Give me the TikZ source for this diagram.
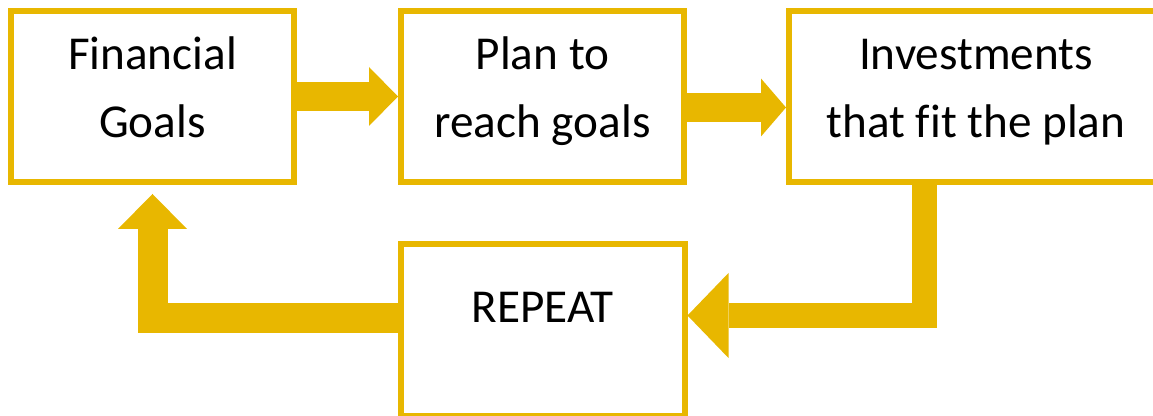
\documentclass[tikz,border=0pt]{standalone}
\usepackage{fontspec}
\setmainfont{Carlito}[Ligatures=NoCommon]
\usetikzlibrary{arrows.meta, positioning}
\definecolor{gold}{RGB}{232,183,0}

\begin{document}
\begin{tikzpicture}[
    x=0.5pt, y=-0.5pt,
    box/.style={draw=gold, line width=3pt, text centered, align=center,
    font=\fontsize{23.6pt}{34pt}\selectfont,
    minimum width=141.5pt, minimum height=85.5pt,
    text height=45pt, text depth=3.5pt},
    flow/.style={draw=gold, line width=14.5pt, line join=miter},
    ]
    \clip (0,0) rectangle (1153,416);

    \node[box]  (goals)  at (152.5,96.5)                               {Financial\\Goals};
    \node[box]  (plan)   [right=50.5pt of goals]                       {Plan to\\reach goals};
    \node[box]  (invest) [right=49.5pt of plan, minimum width=187pt]   {Investments\\that fit the plan};
    \node[box]  (repeat) [below=28pt of plan, minimum width=142pt,
                          minimum height=86pt, text height=17pt,
                          text depth=24pt]                             {REPEAT};

    % block arrows round the loop
    \draw[flow, -{Triangle[width=29.5pt, length=14.5pt, line width=0pt]}]
      (goals) -- (plan);
    \draw[flow, -{Triangle[width=29pt, length=12.5pt, line width=0pt]}]
      ([yshift=-5.5pt]plan.east) -- ([yshift=-5.5pt]invest.west);
    \draw[flow, line width=12.5pt, -{Triangle[width=42.5pt, length=20.5pt, line width=0pt]}]
      ([xshift=-26pt]invest.south) |- ([yshift=7.25pt]repeat.east);
    \draw[flow, line width=15pt, shorten >=4.5pt, -{Triangle[width=34.5pt, length=17.5pt, line width=0pt]}]
      ([yshift=5.75pt]repeat.west) -| (goals.south);
\end{tikzpicture}
\end{document}
